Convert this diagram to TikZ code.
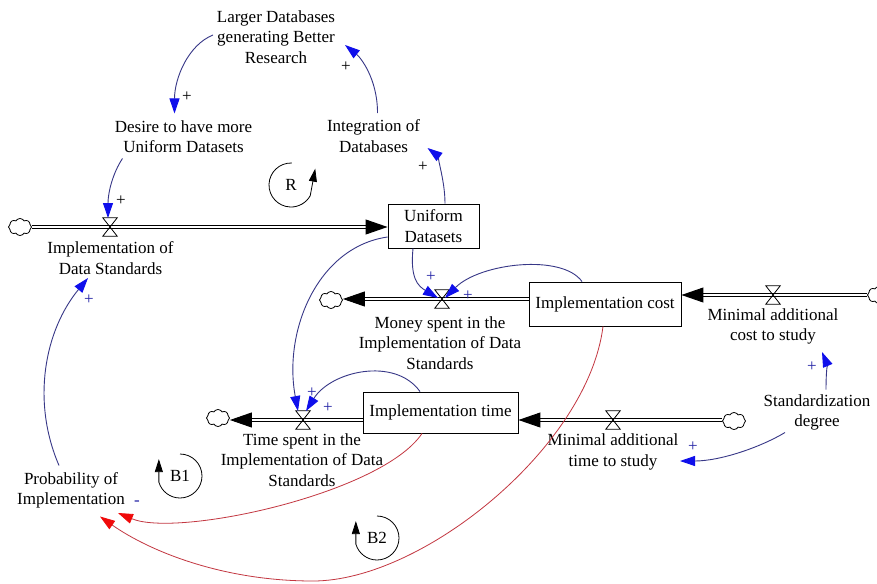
\documentclass[tikz,border=0pt]{standalone}
\usepackage{fontspec}
\setmainfont{Liberation Serif}
\usetikzlibrary{arrows.meta,shapes.symbols,calc}
\definecolor{linkc}{RGB}{55,55,135}
\definecolor{headb}{RGB}{15,15,235}
\definecolor{redl}{RGB}{195,55,65}
\definecolor{headr}{RGB}{240,10,10}
\definecolor{signb}{RGB}{35,35,165}
\begin{document}
\begin{tikzpicture}[x=1pt,y=-1pt,
  every node/.style={font=\fontsize{17}{20.5}\selectfont, inner sep=0pt, align=center},
  stockbox/.style 2 args={draw, line width=0.9pt, minimum width=#1, minimum height=#2},
  valvebox/.style={minimum width=14pt, minimum height=18pt},
  valveline/.style={draw=black, line width=0.8pt, line join=miter},
  cloudn/.style={cloud, cloud puffs=8, cloud puff arc=120, cloud ignores aspect, draw, line width=0.8pt, minimum width=23pt, minimum height=17pt},
  pipe/.style={draw=black, double=white, double distance=2.8pt, line width=0.95pt, -{Triangle[length=22pt,width=15pt]}},
  blink/.style={draw=linkc, line width=0.9pt, -{Triangle[length=15pt,width=10pt,color=headb]}},
  rlink/.style={draw=redl, line width=0.8pt, -{Triangle[length=15pt,width=10pt,color=headr]}},
  signk/.style={font=\fontsize{17}{17}\selectfont, text=black},
  signbl/.style={font=\fontsize{17}{17}\selectfont, text=signb},
  looparc/.style={draw=black, line width=0.8pt, -{Triangle[length=13pt,width=8pt]}}
]
\fill[white] (0,0) rectangle (877,583);
\useasboundingbox (0,0) rectangle (877,583);

% variables
\node (larger) at (276,37) {Larger Databases\\generating Better\\Research};
\node (desire) at (183.5,136.5) {Desire to have more\\Uniform Datasets};
\node (integ) at (373.5,136) {Integration of\\Databases};
\node[stockbox={91pt}{44pt}] (uds) at (433.5,226) {Uniform\\Datasets};
\node[stockbox={152pt}{44pt}] (icost) at (605,304) {Implementation cost};
\node[stockbox={155pt}{41pt}] (itime) at (440.5,412.5) {Implementation time};
\node[valvebox] (v1) at (110,227) {};
\node (implds) at (110.5,258) {Implementation of\\Data Standards};
\node[valvebox] (v2) at (442,299) {};
\node (money) at (440,343) {Money spent in the\\Implementation of Data\\Standards};
\node[valvebox] (v3) at (773,295) {};
\node (mcost) at (773,326.5) {Minimal additional\\cost to study};
\node[valvebox] (v4) at (613,420) {};
\node (mtime) at (613,452) {Minimal additional\\time to study};
\node[valvebox] (v5) at (303,420) {};
\node (tspent) at (302,460) {Time spent in the\\Implementation of Data\\Standards};
\node (prob) at (71,490.5) {Probability of\\Implementation};
\node (std) at (817,412.5) {Standardization\\degree};
\node[cloudn] (c1) at (20,227) {};
\node[cloudn] (c2) at (331,300) {};
\node[cloudn] (c3) at (879,295) {};
\node[cloudn] (c4) at (734,421) {};
\node[cloudn] (c5) at (218,418) {};
\node (R) at (291,185) {R};
\node (B1) at (180,476) {B1};
\node (B2) at (377,538) {B2};
\coordinate (rb) at (313,581);

% pipes
\draw[pipe] (c1.east) -- (c1.east -| uds.west);
\draw[pipe] (icost.west |- v2) -- (c2.east |- v2);
\draw[pipe] (c3.west |- v3) -- (icost.east |- v3);
\draw[pipe] (c4.west |- v4) -- (itime.east |- v4);
\draw[pipe] (itime.west |- v5) -- (c5.east |- v5);

% valves
\foreach \v in {v1,v2,v3,v4,v5}
  \draw[valveline] (\v.north west) -- (\v.north east) -- (\v.south west) -- (\v.south east) -- cycle;

% links
\draw[blink] ([shift={(-63,-2)}]larger.center) .. controls +(-25,10) and +(0,-35) .. ([shift={(-9,-23)}]desire.center);
\draw[blink] ([shift={(-61,22)}]desire.center) .. controls +(-10,15) and +(0,-25) .. ([shift={(-2,-9)}]v1.center);
\draw[blink] ([shift={(4,-23)}]integ.center) .. controls +(0,-35) and +(15,12) .. ([shift={(69,8)}]larger.center);
\draw[blink] ([shift={(11.5,0)}]uds.north) .. controls +(0,-25) and +(8,6) .. ([shift={(54,12)}]integ.center);
\draw[blink] ([shift={(-20.5,0)}]uds.south) .. controls +(-3,30) and +(-20,-12) .. ([shift={(-4,-1)}]v2.center);
\draw[blink] ([shift={(-23,0)}]icost.north) .. controls +(-20,-28) and +(35,-35) .. ([shift={(3,-1)}]v2.center);
\draw[blink] ([shift={(0,11)}]uds.west) .. controls +(-70,10) and +(-15,-80) .. ([shift={(-5,-9)}]v5.center);
\draw[blink] ([shift={(-20.5,0)}]itime.north) .. controls +(-25,-35) and +(25,-40) .. ([shift={(3,-9)}]v5.center);
\draw[blink] ([shift={(-12,-25)}]prob.center) .. controls +(-28,-65) and +(-43,52) .. ([shift={(-22.5,20)}]implds.center);
\draw[blink] ([shift={(9,-23)}]std.center) .. controls +(0,-15) and +(5,12) .. ([shift={(49,25.5)}]mcost.center);
\draw[blink] ([shift={(-32,20)}]std.center) .. controls +(-25,15) and +(40,0) .. ([shift={(67,9)}]mtime.center);
\draw[rlink] ([shift={(-18.5,0)}]itime.south) .. controls +(-40,60) and +(60,25) .. ([shift={(47,22.5)}]prob.center);
\draw[rlink] ([shift={(-2,0)}]icost.south) .. controls +(-15,120) and +(110,0) .. (rb) .. controls +(-90,0) and +(50,35) .. ([shift={(29,26)}]prob.center);

% polarities
\node[signk] (s1) at (187,97) {+};
\node[signk] (s2) at (121,201) {+};
\node[signk] (s3) at (346,67) {+};
\node[signk] (s4) at (423,167) {+};
\node[signbl] (s5) at (431,277) {+};
\node[signbl] (s6) at (468,296) {+};
\node[signbl] (s7) at (312,393) {+};
\node[signbl] (s8) at (328,408) {+};
\node[signbl] (s9) at (89,300) {+};
\node[signbl] (s10) at (812,367) {+};
\node[signbl] (s11) at (693,447) {+};
\node[signbl] (s12) at (137,503) {-};

% loop markers
\draw[looparc] ([shift={(88:22pt)}]R.center) arc[start angle=88, end angle=331, radius=22pt] -- ++(5,-27);
\draw[looparc] ([shift={(90:22pt)}]B1.center) arc[start angle=90, end angle=-164, radius=22pt] -- ++(0,-23);
\draw[looparc] ([shift={(90:22pt)}]B2.center) arc[start angle=90, end angle=-164, radius=22pt] -- ++(0,-23);
\end{tikzpicture}
\end{document}
